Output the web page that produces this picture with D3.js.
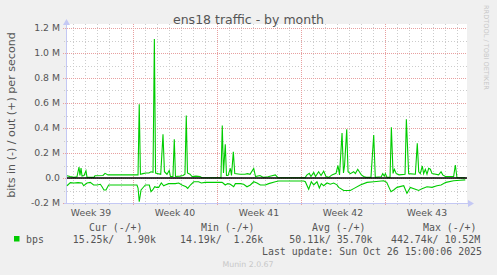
<!DOCTYPE html>
<html><head><meta charset="utf-8">
<script src="https://cdn.jsdelivr.net/npm/d3@7/dist/d3.min.js"></script>
<style>
html,body{margin:0;padding:0;background:#f0f0f0;}
svg{display:block;}
</style>
</head><body>
<script>
// Time: days relative to Mon 29 Sep 2025 00:00 (start of Week 40)
const outDays = [-5.5,-5.25,-4.92,-4.67,-4.5,-4.42,-4.33,-4.25,-4.08,-3.92,-3.83,-3.25,-3.17,-2.5,-2.33,-2.08,0.42,0.52,0.62,0.83,1.08,1.33,1.5,1.67,1.78,1.88,2.08,2.31,2.5,2.62,2.83,3.02,3.12,3.33,3.44,3.54,3.92,4.17,4.33,4.44,4.54,4.75,4.92,5.25,5.58,5.75,7.33,7.44,7.54,7.69,7.79,7.92,8.11,8.21,8.36,8.48,8.92,9.33,9.54,9.75,10.06,10.21,10.58,10.88,11.25,11.58,11.86,12.08,14.33,14.5,14.69,14.83,15.06,15.21,15.47,15.67,15.89,16.08,16.31,16.58,16.92,17.08,17.21,17.42,17.54,17.63,17.81,17.92,18.11,18.39,18.53,18.73,18.86,19.03,19.22,19.42,19.83,20.06,20.19,20.69,20.81,20.94,21.03,21.17,21.42,21.53,21.67,21.78,21.94,22.17,22.67,22.78,22.97,23.53,23.69,23.81,23.94,24.11,24.22,24.36,24.5,24.64,24.78,24.92,25.47,25.67,25.81,26.03,26.72,26.86,27.0,27.69];
const outBps = [18000,12000,5000,10000,88000,20000,80000,15000,20000,58000,5000,5000,18000,20000,37000,25000,25000,590000,30000,35000,40000,40000,50000,45000,1112000,40000,35000,30000,350000,50000,30000,60000,12000,12000,310000,12000,15000,20000,30000,500000,40000,30000,12000,15000,12000,2000,2000,420000,40000,270000,20000,20000,77000,20000,210000,35000,30000,30000,35000,30000,77000,12000,20000,5000,10000,18000,25000,3000,2000,25000,37000,12000,45000,12000,50000,20000,55000,12000,5000,25000,37000,100000,25000,360000,40000,100000,390000,50000,35000,50000,35000,70000,50000,25000,12000,5000,5000,344000,5000,10000,35000,15000,35000,5000,5000,405000,37000,70000,35000,25000,30000,470000,35000,30000,277000,50000,35000,96000,35000,70000,30000,77000,70000,35000,25000,50000,25000,12000,12000,104000,2000,1900];
const inDays = [-5.5,-5.22,-4.92,-4.58,-4.25,-4.11,-3.83,-3.56,-3.28,-3.0,-2.72,-2.58,-2.42,-2.25,-2.03,0.33,0.42,0.52,0.67,0.81,1.03,1.36,1.5,1.64,1.81,1.94,2.14,2.36,2.56,2.69,2.97,3.53,3.81,4.08,4.42,4.56,4.78,5.06,5.47,5.69,6.0,7.42,7.5,7.69,7.89,8.11,8.39,8.53,8.94,9.22,9.5,9.78,10.06,10.33,10.61,11.03,11.31,11.86,12.14,14.22,14.36,14.64,14.86,15.06,15.33,15.53,15.69,15.89,16.17,16.44,16.72,17.0,17.14,17.56,18.11,18.39,18.94,19.5,20.06,20.89,21.14,21.5,21.72,22.0,22.56,22.83,23.11,23.53,23.81,24.08,24.5,24.92,25.33,25.67,26.08,26.72,27.28,27.69];
const inBps = [62000,37000,40000,37000,40000,62000,40000,35000,56000,56000,50000,70000,96000,96000,56000,56000,80000,190000,96000,80000,56000,56000,110000,96000,70000,75000,75000,40000,62000,56000,45000,45000,40000,56000,70000,83000,56000,30000,30000,40000,35000,35000,40000,56000,45000,50000,70000,45000,45000,50000,70000,56000,30000,40000,56000,56000,45000,30000,24000,24000,30000,90000,30000,56000,30000,80000,45000,62000,40000,50000,40000,55000,75000,100000,100000,85000,56000,35000,30000,22000,35000,110000,96000,75000,62000,123000,75000,90000,100000,85000,70000,75000,62000,56000,35000,22000,18000,15250];

const yTicks = [-200000,0,200000,400000,600000,800000,1000000,1200000];
const yTickLabels = ["-0.2 M","0.0","0.2 M","0.4 M","0.6 M","0.8 M","1.0 M","1.2 M"];
const weekStarts = [0,7,14,21];
const weekLabels = ["Week 39","Week 40","Week 41","Week 42","Week 43"];
const weekLabelCenters = [-3.5,3.5,10.5,17.5,24.5];
const legendHeaders = ["Cur (-/+)","Min (-/+)","Avg (-/+)","Max (-/+)"];
const legendValues = ["15.25k/  1.90k","14.19k/  1.26k","50.11k/ 35.70k","442.74k/ 10.52M"];

const W = 497, H = 275;
const svg = d3.select("body").append("svg").attr("width", W).attr("height", H);
svg.append("rect").attr("width", W).attr("height", H).attr("fill", "#f0f0f0");

const x = d3.scaleLinear().domain([-5.5, 27 + 5/6]).range([67, 467]);
const y = d3.scaleLinear().domain([-200000, 1232000]).range([203, 24]);

// plot background
svg.append("rect").attr("x", x.range()[0]).attr("y", y.range()[1])
  .attr("width", x.range()[1] - x.range()[0]).attr("height", y.range()[0] - y.range()[1])
  .attr("fill", "#ffffff");

const grid = svg.append("g").attr("shape-rendering", "crispEdges");
// minor horizontal every 100k
d3.range(-100000, 1200001, 100000).filter(v => Math.abs(v % 200000) !== 0).forEach(v => {
  grid.append("line").attr("x1", 64).attr("x2", 467).attr("y1", Math.round(y(v)) + 0.5).attr("y2", Math.round(y(v)) + 0.5)
    .attr("stroke", "#cccccc").attr("stroke-dasharray", "1,2");
});
// minor vertical every day
d3.range(-5, 28).filter(d => !weekStarts.includes(d)).forEach(d => {
  grid.append("line").attr("y1", 24).attr("y2", 205).attr("x1", Math.round(x(d)) + 0.5).attr("x2", Math.round(x(d)) + 0.5)
    .attr("stroke", "#cccccc").attr("stroke-dasharray", "1,2");
});
// major horizontal
yTicks.forEach(v => {
  grid.append("line").attr("x1", 63).attr("x2", 467).attr("y1", Math.round(y(v)) + 0.5).attr("y2", Math.round(y(v)) + 0.5)
    .attr("stroke", "#e8a0a0").attr("stroke-dasharray", "1,1");
});
// major vertical
weekStarts.forEach(d => {
  grid.append("line").attr("y1", 24).attr("y2", 206).attr("x1", Math.round(x(d)) + 0.5).attr("x2", Math.round(x(d)) + 0.5)
    .attr("stroke", "#e8a0a0").attr("stroke-dasharray", "1,1");
});

// axes
const axisColor = "#c4c8f4";
svg.append("line").attr("x1", 66.5).attr("x2", 66.5).attr("y1", 204).attr("y2", 24).attr("stroke", axisColor);
svg.append("line").attr("x1", 64).attr("x2", 470).attr("y1", 203.5).attr("y2", 203.5).attr("stroke", axisColor);
svg.append("path").attr("d", "M63,25 L70,25 L66.5,19 Z").attr("fill", axisColor);
svg.append("path").attr("d", "M468,200 L468,207 L474,203.5 Z").attr("fill", axisColor);

// tick labels
const fontSans = "'DejaVu Sans', sans-serif";
const textColor = "#555555";
svg.append("g").selectAll("text").data(yTicks).join("text")
  .attr("x", 60).attr("y", d => y(d)).attr("dy", "0.35em")
  .attr("text-anchor", "end").attr("font-family", fontSans).attr("font-size", 9.3)
  .attr("fill", textColor).text((d, i) => yTickLabels[i]);
svg.append("g").selectAll("text").data(weekLabelCenters).join("text")
  .attr("x", d => x(d)).attr("y", 216)
  .attr("text-anchor", "middle").attr("font-family", fontSans).attr("font-size", 9.3)
  .attr("fill", textColor).text((d, i) => weekLabels[i]);

// data lines
const line = d3.line().x(d => x(d[0])).y(d => y(d[1]));
const outData = outDays.map((d, i) => [d, outBps[i]]);
const inData = inDays.map((d, i) => [d, -inBps[i]]);
svg.append("path").datum(inData).attr("d", line).attr("fill", "none").attr("stroke", "#00cc00").attr("stroke-width", 1.1);
svg.append("path").datum(outData).attr("d", line).attr("fill", "none").attr("stroke", "#00cc00").attr("stroke-width", 1.1);

// zero line
svg.append("line").attr("x1", 67).attr("x2", 467).attr("y1", y(0)).attr("y2", y(0)).attr("stroke", "#000").attr("stroke-width", 1.5);

// title
svg.append("text").attr("x", 248.5).attr("y", 24).attr("text-anchor", "middle")
  .attr("font-family", fontSans).attr("font-size", 12.5).attr("fill", "#555555").text("ens18 traffic - by month");

// y axis label
svg.append("text").attr("transform", "translate(14.5,115) rotate(-90)").attr("text-anchor", "middle")
  .attr("font-family", fontSans).attr("font-size", 11.1).attr("fill", textColor).text("bits in (-) / out (+) per second");

// right vertical credit
svg.append("text").attr("transform", "translate(484,5) rotate(90)").attr("text-anchor", "start")
  .attr("font-family", fontSans).attr("font-size", 6.6).attr("fill", "#c8c8c8").text("RRDTOOL / TOBI OETIKER");

// legend
const fontMono = "'DejaVu Sans Mono', monospace";
const headerX = [89, 201, 312, 423];
const valueX = [72.7, 180, 289.3, 391];
svg.append("g").selectAll("text").data(legendHeaders).join("text")
  .attr("x", (d, i) => headerX[i]).attr("y", 231).style("white-space", "pre")
  .attr("font-family", fontMono).attr("font-size", 9.9).attr("fill", textColor).text(d => d);
svg.append("g").selectAll("text").data(legendValues).join("text")
  .attr("x", (d, i) => valueX[i]).attr("y", 243).style("white-space", "pre")
  .attr("font-family", fontMono).attr("font-size", 9.9).attr("fill", textColor).text(d => d);
svg.append("rect").attr("x", 14).attr("y", 236).attr("width", 5.5).attr("height", 5.5).attr("fill", "#00cc00");
svg.append("text").attr("x", 26).attr("y", 243).attr("font-family", fontMono).attr("font-size", 9.9)
  .attr("fill", textColor).text("bps");
svg.append("text").attr("x", 482).attr("y", 255).attr("text-anchor", "end").style("white-space", "pre")
  .attr("font-family", fontMono).attr("font-size", 9.9).attr("fill", textColor).text("Last update: Sun Oct 26 15:00:06 2025");

// footer
svg.append("text").attr("x", 248).attr("y", 267).attr("text-anchor", "middle")
  .attr("font-family", fontSans).attr("font-size", 7.8).attr("fill", "#c8c8c8").text("Munin 2.0.67");
</script>
</body></html>
